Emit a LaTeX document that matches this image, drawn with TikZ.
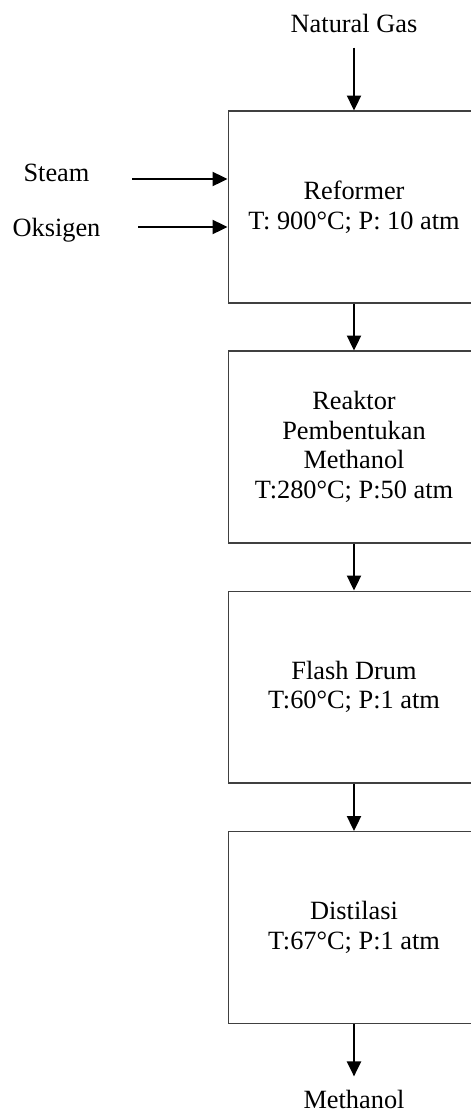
\documentclass[tikz,border=0pt]{standalone}
\usepackage{fontspec}
\setmainfont{Liberation Serif}
\usetikzlibrary{arrows.meta}

\begin{document}
\begin{tikzpicture}[x=0.02cm,y=-0.02cm,font=\fontsize{15pt}{16.8pt}\selectfont,
  unit/.style={draw=black!75,line width=0.6pt,minimum width=5.04cm,minimum height=3.84cm,align=center,inner sep=0pt},
  stream/.style={inner sep=0pt},
  flow/.style={-{Triangle[length=8.5pt,width=8pt]},line width=1.1pt}]
  \useasboundingbox (0,0) rectangle (470,1112);
  \node[unit] (reformer) at (354,207) {Reformer\\T: 900°C; P: 10 atm};
  \node[unit] (reaktor) at (354,447) {Reaktor\\Pembentukan\\Methanol\\T:280°C; P:50 atm};
  \node[unit] (flash) at (354,687) {Flash Drum\\T:60°C; P:1 atm};
  \node[unit] (distilasi) at (354,927.5) {Distilasi\\T:67°C; P:1 atm};
  \node[stream,anchor=base] (gas) at (354,32) {Natural Gas};
  \node[stream,anchor=base] (steam) at (56.5,181) {Steam};
  \node[stream,anchor=base] (oksigen) at (56.5,236) {Oksigen};
  \node[stream,anchor=base] (methanol) at (354,1108) {Methanol};
  \coordinate (steamin) at (132,179);
  \coordinate (oksigenin) at (138,227);
  \draw[flow,shorten <=8.5pt] (gas) -- (reformer);
  \draw[flow] (steamin) -- (steamin -| reformer.west);
  \draw[flow] (oksigenin) -- (oksigenin -| reformer.west);
  \foreach \a/\b in {reformer/reaktor,reaktor/flash,flash/distilasi}
    \draw[flow] (\a) -- (\b);
  \draw[flow,shorten >=7.4pt] (distilasi) -- (methanol);
\end{tikzpicture}
\end{document}
